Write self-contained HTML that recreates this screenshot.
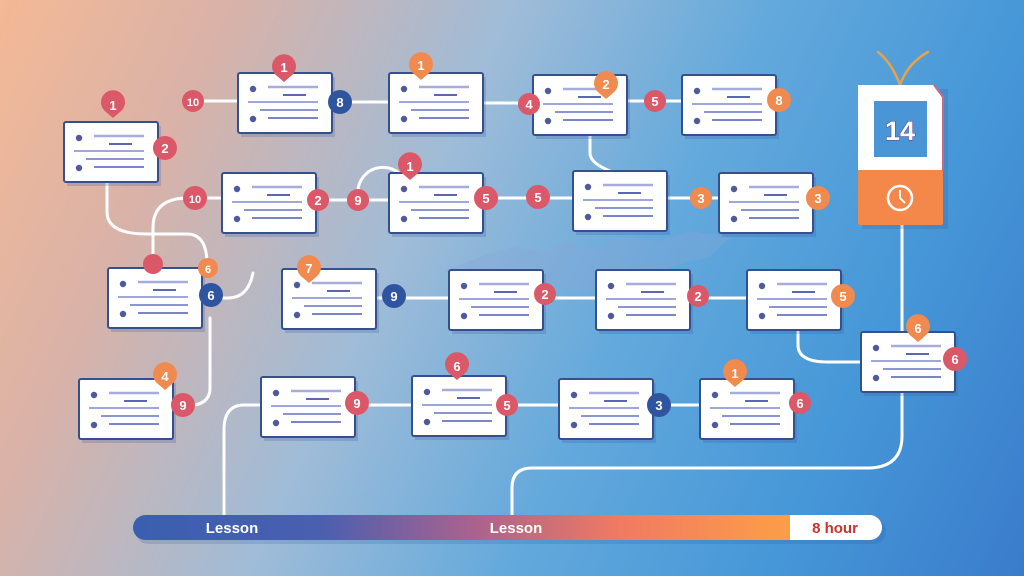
<!DOCTYPE html>
<html><head><meta charset="utf-8"><style>
html,body{margin:0;padding:0}
body{width:1024px;height:576px;overflow:hidden;background:linear-gradient(115deg,#f4b995 0%,#d9b2a8 18%,#9fbcd8 40%,#63a9dc 60%,#4697d8 80%,#3a7ccb 100%);font-family:"Liberation Sans",sans-serif}
svg{display:block}
</style></head><body>
<svg width="1024" height="576" viewBox="0 0 1024 576" xmlns="http://www.w3.org/2000/svg">
<defs>
<linearGradient id="bar" x1="0" x2="1">
<stop offset="0" stop-color="#3a5fb0"/><stop offset="0.25" stop-color="#4a5fb0"/><stop offset="0.45" stop-color="#a8628f"/><stop offset="0.65" stop-color="#f07a62"/><stop offset="0.85" stop-color="#fb9a4a"/><stop offset="1" stop-color="#fbb044"/>
</linearGradient>
<g id="card">
<rect x="3" y="4" width="94" height="60" fill="#3c5aa0" opacity="0.25"/>
<rect x="0" y="0" width="94" height="60" rx="2" fill="#fff" stroke="#34508f" stroke-width="2"/>
<circle cx="15" cy="16" r="3.2" fill="#4e5a9c"/>
<line x1="30" y1="14" x2="80" y2="14" stroke="#a7addb" stroke-width="2.5"/>
<line x1="45" y1="22" x2="68" y2="22" stroke="#5d66b0" stroke-width="2"/>
<line x1="10" y1="29" x2="80" y2="29" stroke="#9fa7da" stroke-width="2"/>
<line x1="22" y1="37" x2="80" y2="37" stroke="#8c95d2" stroke-width="2"/>
<circle cx="15" cy="46" r="3.2" fill="#4e5a9c"/>
<line x1="30" y1="45" x2="80" y2="45" stroke="#7a84c8" stroke-width="2"/>
</g>
</defs>

<path d="M485 255 l30 -8 30 4 20 -10 30 8 25 -12 40 4 30 -10 40 6 -20 20 -40 10 -30 20 -20 -5 -40 10 -30 -10 -40 5 -40 -6 -25 -10z" fill="#8aa5d8" opacity="0.35"/>

<g fill="none" stroke="#fff" stroke-width="3" stroke-linecap="round">
<line x1="200" y1="101" x2="238" y2="101"/>
<line x1="332" y1="102" x2="389" y2="102"/>
<line x1="483" y1="103" x2="532" y2="103"/>
<line x1="627" y1="101" x2="682" y2="101"/>
<path d="M590 133 v20 q0 10 20 18"/>
<line x1="200" y1="198" x2="222" y2="198"/>
<line x1="314" y1="200" x2="389" y2="200"/>
<line x1="483" y1="198" x2="574" y2="198"/>
<line x1="666" y1="198" x2="719" y2="198"/>
<path d="M358 195 a25 25 0 0 1 50 -5"/>
<path d="M107 182 v30 q0 22 40 22 h40 q20 0 20 30 v5"/>
<path d="M188 198 q-35 0 -35 30 v40"/>
<path d="M203 298 h25 q20 0 25 -25"/>
<path d="M210 318 v70 q0 18 -25 18"/>
<line x1="375" y1="298" x2="450" y2="298"/>
<line x1="540" y1="298" x2="598" y2="298"/>
<line x1="686" y1="298" x2="748" y2="298"/>
<path d="M798 330 v15 q0 17 30 17 h33"/>
<line x1="352" y1="405" x2="413" y2="405"/>
<line x1="503" y1="405" x2="560" y2="405"/>
<line x1="650" y1="405" x2="701" y2="405"/>
<path d="M262 405 h-18 q-20 0 -20 25 v85"/>
<path d="M902 225 v108"/>
<path d="M902 391 v45 q0 32 -35 32 h-335 q-20 0 -20 20 v27"/>
<path d="M900 85 q-8 -22 -22 -33 M900 85 q8 -22 28 -33" stroke="#e8a24a" stroke-width="2.5"/>
</g>

<use href="#card" x="64" y="122"/>
<use href="#card" x="238" y="73"/>
<use href="#card" x="389" y="73"/>
<use href="#card" x="533" y="75"/>
<use href="#card" x="682" y="75"/>
<use href="#card" x="222" y="173"/>
<use href="#card" x="389" y="173"/>
<use href="#card" x="573" y="171"/>
<use href="#card" x="719" y="173"/>
<use href="#card" x="108" y="268"/>
<use href="#card" x="282" y="269"/>
<use href="#card" x="449" y="270"/>
<use href="#card" x="596" y="270"/>
<use href="#card" x="747" y="270"/>
<use href="#card" x="861" y="332"/>
<use href="#card" x="79" y="379"/>
<use href="#card" x="261" y="377"/>
<use href="#card" x="412" y="376"/>
<use href="#card" x="559" y="379"/>
<use href="#card" x="700" y="379"/>

<rect x="862" y="89" width="86" height="140" fill="#3a5fa0" opacity="0.25"/>
<path d="M858 85 h76 l9 12 v73 h-85z" fill="#fff"/>
<path d="M934 85 l9 12 v73" fill="none" stroke="#c76a8a" stroke-width="2"/>
<rect x="858" y="170" width="85" height="55" rx="2" fill="#f4874a"/>
<rect x="874" y="101" width="53" height="56" fill="#4a95d5"/>
<text x="900" y="140" font-size="27" font-weight="bold" fill="#fff" stroke="#5a3f8a" stroke-width="1" text-anchor="middle" style="paint-order:stroke">14</text>
<circle cx="900" cy="198" r="12" fill="none" stroke="#fff" stroke-width="2.5"/>
<path d="M900 190 v8 l5 5" fill="none" stroke="#fff" stroke-width="2"/>

<g font-size="13" font-weight="bold" fill="#fff" text-anchor="middle">
<g fill="#db5868">
<circle cx="193" cy="101" r="11"/><circle cx="529" cy="104" r="11"/><circle cx="655" cy="101" r="11"/>
<circle cx="165" cy="148" r="12"/><circle cx="195" cy="198" r="12"/><circle cx="318" cy="200" r="11"/>
<circle cx="358" cy="200" r="11"/><circle cx="486" cy="198" r="12"/><circle cx="538" cy="197" r="12"/>
<circle cx="545" cy="294" r="11"/><circle cx="698" cy="296" r="11"/><circle cx="955" cy="359" r="12"/>
<circle cx="183" cy="405" r="12"/><circle cx="357" cy="403" r="12"/><circle cx="507" cy="405" r="11"/>
<circle cx="800" cy="403" r="11"/><circle cx="153" cy="264" r="10"/>
</g>
<g fill="#f08a4e">
<circle cx="779" cy="100" r="12"/><circle cx="701" cy="198" r="11"/><circle cx="818" cy="198" r="12"/>
<circle cx="208" cy="268" r="10"/><circle cx="843" cy="296" r="12"/>
</g>
<g fill="#2f54a0">
<circle cx="340" cy="102" r="12"/><circle cx="211" cy="295" r="12"/><circle cx="394" cy="296" r="12"/><circle cx="659" cy="405" r="12"/>
</g>
<g fill="#db5868">
<path d="M113 118 l-7 -6 a12 12 0 1 1 14 0z"/><path d="M284 82 l-7 -6 a12 12 0 1 1 14 0z"/>
<path d="M410 180 l-7 -6 a12 12 0 1 1 14 0z"/><path d="M457 380 l-7 -6 a12 12 0 1 1 14 0z"/>
</g>
<g fill="#f08a4e">
<path d="M421 80 l-7 -6 a12 12 0 1 1 14 0z"/><path d="M606 99 l-7 -6 a12 12 0 1 1 14 0z"/>
<path d="M309 283 l-7 -6 a12 12 0 1 1 14 0z"/><path d="M918 342 l-7 -6 a12 12 0 1 1 14 0z"/>
<path d="M165 390 l-7 -6 a12 12 0 1 1 14 0z"/><path d="M735 387 l-7 -6 a12 12 0 1 1 14 0z"/>
</g>
<text x="193" y="106" font-size="11">10</text><text x="340" y="107">8</text><text x="529" y="109">4</text>
<text x="606" y="89">2</text><text x="655" y="106">5</text><text x="779" y="105">8</text>
<text x="113" y="110">1</text><text x="165" y="153">2</text><text x="284" y="72">1</text><text x="421" y="70">1</text>
<text x="195" y="203" font-size="11">10</text><text x="318" y="205">2</text><text x="358" y="205">9</text>
<text x="410" y="171">1</text><text x="486" y="203">5</text><text x="538" y="202">5</text>
<text x="701" y="203">3</text><text x="818" y="203">3</text>
<text x="208" y="273" font-size="11">6</text><text x="211" y="300">6</text><text x="309" y="273">7</text>
<text x="394" y="301">9</text><text x="545" y="299">2</text><text x="698" y="301">2</text><text x="843" y="301">5</text>
<text x="918" y="333">6</text><text x="955" y="364">6</text>
<text x="165" y="381">4</text><text x="183" y="410">9</text><text x="357" y="408">9</text><text x="457" y="371">6</text>
<text x="507" y="410">5</text><text x="659" y="410">3</text><text x="735" y="378">1</text><text x="800" y="408">6</text>
</g>

<rect x="136" y="519" width="750" height="25" rx="12" fill="#2a5aa0" opacity="0.2"/>
<rect x="133" y="515" width="749" height="25" rx="12.5" fill="url(#bar)"/>
<path d="M790 515 h79.5 a12.5 12.5 0 0 1 0 25 h-79.5z" fill="#fff"/>
<g font-size="15" font-weight="bold" text-anchor="middle">
<text x="232" y="533" fill="#fff">Lesson</text>
<text x="516" y="533" fill="#fff">Lesson</text>
<text x="835" y="533" fill="#c8342c">8 hour</text>
</g>
</svg>
</body></html>
